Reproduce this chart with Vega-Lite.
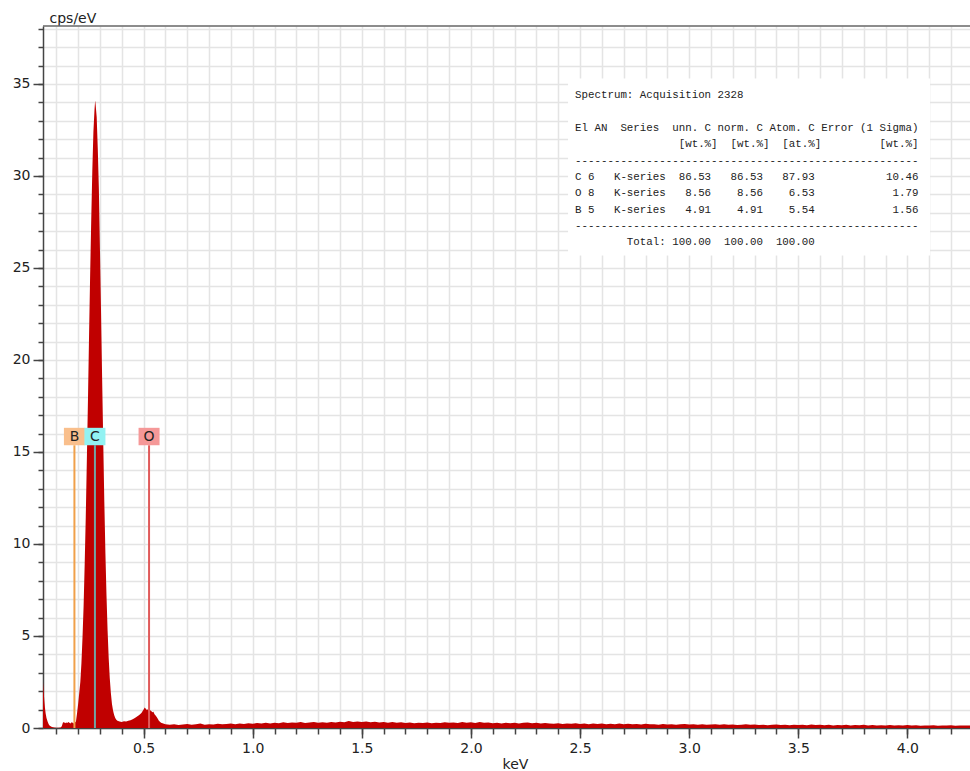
{
  "$schema": "https://vega.github.io/schema/vega-lite/v6.json",
  "width": 927,
  "height": 702,
  "autosize": {"type": "none"},
  "padding": {"left": 43, "top": 26, "right": 0, "bottom": 43},
  "background": "white",
  "config": {"view": {"stroke": null}},
  "datasets": {
    "spectrum": [
      {"keV": 0.039, "cps": 2.5}, {"keV": 0.042, "cps": 2.0}, {"keV": 0.045, "cps": 1.5}, {"keV": 0.048, "cps": 1.1},
      {"keV": 0.051, "cps": 0.8}, {"keV": 0.055, "cps": 0.55}, {"keV": 0.06, "cps": 0.35}, {"keV": 0.065, "cps": 0.2},
      {"keV": 0.07, "cps": 0.12}, {"keV": 0.08, "cps": 0.06}, {"keV": 0.09, "cps": 0.03}, {"keV": 0.10, "cps": 0.02},
      {"keV": 0.11, "cps": 0.02}, {"keV": 0.12, "cps": 0.03}, {"keV": 0.125, "cps": 0.1}, {"keV": 0.13, "cps": 0.28},
      {"keV": 0.135, "cps": 0.32}, {"keV": 0.14, "cps": 0.26}, {"keV": 0.145, "cps": 0.3}, {"keV": 0.15, "cps": 0.27},
      {"keV": 0.155, "cps": 0.33}, {"keV": 0.16, "cps": 0.29}, {"keV": 0.165, "cps": 0.25}, {"keV": 0.17, "cps": 0.31},
      {"keV": 0.175, "cps": 0.28}, {"keV": 0.18, "cps": 0.24}, {"keV": 0.185, "cps": 0.3}, {"keV": 0.19, "cps": 0.35},
      {"keV": 0.195, "cps": 0.8}, {"keV": 0.20, "cps": 1.3}, {"keV": 0.205, "cps": 1.9}, {"keV": 0.21, "cps": 2.5},
      {"keV": 0.215, "cps": 3.5}, {"keV": 0.22, "cps": 4.9}, {"keV": 0.225, "cps": 6.6}, {"keV": 0.23, "cps": 8.9},
      {"keV": 0.235, "cps": 11.5}, {"keV": 0.24, "cps": 14.6}, {"keV": 0.245, "cps": 17.8}, {"keV": 0.25, "cps": 21.3},
      {"keV": 0.255, "cps": 24.6}, {"keV": 0.26, "cps": 27.6}, {"keV": 0.265, "cps": 30.3}, {"keV": 0.27, "cps": 32.4},
      {"keV": 0.275, "cps": 33.6}, {"keV": 0.278, "cps": 34.1}, {"keV": 0.28, "cps": 33.9}, {"keV": 0.285, "cps": 33.2},
      {"keV": 0.29, "cps": 31.5}, {"keV": 0.295, "cps": 29.3}, {"keV": 0.30, "cps": 26.0}, {"keV": 0.305, "cps": 22.6},
      {"keV": 0.31, "cps": 19.0}, {"keV": 0.315, "cps": 15.6}, {"keV": 0.32, "cps": 12.3}, {"keV": 0.325, "cps": 9.5},
      {"keV": 0.33, "cps": 7.2}, {"keV": 0.335, "cps": 5.3}, {"keV": 0.34, "cps": 3.8}, {"keV": 0.345, "cps": 2.7},
      {"keV": 0.35, "cps": 1.9}, {"keV": 0.355, "cps": 1.3}, {"keV": 0.36, "cps": 0.95}, {"keV": 0.365, "cps": 0.7},
      {"keV": 0.37, "cps": 0.55}, {"keV": 0.375, "cps": 0.45}, {"keV": 0.38, "cps": 0.4}, {"keV": 0.39, "cps": 0.36},
      {"keV": 0.40, "cps": 0.33}, {"keV": 0.41, "cps": 0.37}, {"keV": 0.42, "cps": 0.35}, {"keV": 0.43, "cps": 0.4},
      {"keV": 0.44, "cps": 0.42}, {"keV": 0.45, "cps": 0.48}, {"keV": 0.46, "cps": 0.55}, {"keV": 0.47, "cps": 0.62},
      {"keV": 0.48, "cps": 0.7}, {"keV": 0.49, "cps": 0.82}, {"keV": 0.50, "cps": 1.0}, {"keV": 0.505, "cps": 1.12},
      {"keV": 0.51, "cps": 1.05}, {"keV": 0.515, "cps": 0.98}, {"keV": 0.52, "cps": 1.02}, {"keV": 0.525, "cps": 0.9},
      {"keV": 0.53, "cps": 0.96}, {"keV": 0.535, "cps": 0.92}, {"keV": 0.54, "cps": 0.85}, {"keV": 0.545, "cps": 0.88},
      {"keV": 0.55, "cps": 0.75}, {"keV": 0.555, "cps": 0.68}, {"keV": 0.56, "cps": 0.6}, {"keV": 0.565, "cps": 0.5},
      {"keV": 0.57, "cps": 0.4}, {"keV": 0.575, "cps": 0.34}, {"keV": 0.58, "cps": 0.28}, {"keV": 0.59, "cps": 0.24},
      {"keV": 0.60, "cps": 0.2}, {"keV": 0.62, "cps": 0.18}, {"keV": 0.64, "cps": 0.21}, {"keV": 0.66, "cps": 0.16},
      {"keV": 0.68, "cps": 0.19}, {"keV": 0.70, "cps": 0.22}, {"keV": 0.72, "cps": 0.17}, {"keV": 0.74, "cps": 0.2},
      {"keV": 0.76, "cps": 0.24}, {"keV": 0.78, "cps": 0.18}, {"keV": 0.80, "cps": 0.21}, {"keV": 0.82, "cps": 0.19},
      {"keV": 0.84, "cps": 0.23}, {"keV": 0.86, "cps": 0.2}, {"keV": 0.88, "cps": 0.22}, {"keV": 0.90, "cps": 0.25},
      {"keV": 0.92, "cps": 0.21}, {"keV": 0.94, "cps": 0.24}, {"keV": 0.96, "cps": 0.22}, {"keV": 0.98, "cps": 0.26},
      {"keV": 1.00, "cps": 0.23}, {"keV": 1.02, "cps": 0.27}, {"keV": 1.04, "cps": 0.24}, {"keV": 1.06, "cps": 0.28},
      {"keV": 1.08, "cps": 0.25}, {"keV": 1.10, "cps": 0.29}, {"keV": 1.12, "cps": 0.26}, {"keV": 1.14, "cps": 0.31},
      {"keV": 1.16, "cps": 0.27}, {"keV": 1.18, "cps": 0.3}, {"keV": 1.20, "cps": 0.28}, {"keV": 1.22, "cps": 0.32},
      {"keV": 1.24, "cps": 0.27}, {"keV": 1.26, "cps": 0.3}, {"keV": 1.28, "cps": 0.33}, {"keV": 1.30, "cps": 0.29},
      {"keV": 1.32, "cps": 0.31}, {"keV": 1.34, "cps": 0.28}, {"keV": 1.36, "cps": 0.33}, {"keV": 1.38, "cps": 0.3},
      {"keV": 1.40, "cps": 0.34}, {"keV": 1.42, "cps": 0.31}, {"keV": 1.44, "cps": 0.38}, {"keV": 1.46, "cps": 0.33},
      {"keV": 1.48, "cps": 0.36}, {"keV": 1.50, "cps": 0.32}, {"keV": 1.52, "cps": 0.35}, {"keV": 1.54, "cps": 0.31},
      {"keV": 1.56, "cps": 0.34}, {"keV": 1.58, "cps": 0.3}, {"keV": 1.60, "cps": 0.33}, {"keV": 1.62, "cps": 0.29},
      {"keV": 1.64, "cps": 0.32}, {"keV": 1.66, "cps": 0.28}, {"keV": 1.68, "cps": 0.31}, {"keV": 1.70, "cps": 0.27},
      {"keV": 1.72, "cps": 0.3}, {"keV": 1.74, "cps": 0.26}, {"keV": 1.76, "cps": 0.29}, {"keV": 1.78, "cps": 0.27},
      {"keV": 1.80, "cps": 0.3}, {"keV": 1.82, "cps": 0.26}, {"keV": 1.84, "cps": 0.29}, {"keV": 1.86, "cps": 0.27},
      {"keV": 1.88, "cps": 0.31}, {"keV": 1.90, "cps": 0.28}, {"keV": 1.92, "cps": 0.3}, {"keV": 1.94, "cps": 0.27},
      {"keV": 1.96, "cps": 0.32}, {"keV": 1.98, "cps": 0.29}, {"keV": 2.00, "cps": 0.31}, {"keV": 2.02, "cps": 0.27},
      {"keV": 2.04, "cps": 0.33}, {"keV": 2.06, "cps": 0.29}, {"keV": 2.08, "cps": 0.3}, {"keV": 2.10, "cps": 0.26},
      {"keV": 2.12, "cps": 0.29}, {"keV": 2.14, "cps": 0.25}, {"keV": 2.16, "cps": 0.28}, {"keV": 2.18, "cps": 0.26},
      {"keV": 2.20, "cps": 0.29}, {"keV": 2.22, "cps": 0.25}, {"keV": 2.24, "cps": 0.28}, {"keV": 2.26, "cps": 0.3},
      {"keV": 2.28, "cps": 0.26}, {"keV": 2.30, "cps": 0.28}, {"keV": 2.32, "cps": 0.24}, {"keV": 2.34, "cps": 0.27},
      {"keV": 2.36, "cps": 0.25}, {"keV": 2.38, "cps": 0.23}, {"keV": 2.40, "cps": 0.26}, {"keV": 2.42, "cps": 0.22},
      {"keV": 2.44, "cps": 0.25}, {"keV": 2.46, "cps": 0.23}, {"keV": 2.48, "cps": 0.26}, {"keV": 2.50, "cps": 0.22},
      {"keV": 2.52, "cps": 0.24}, {"keV": 2.54, "cps": 0.21}, {"keV": 2.56, "cps": 0.25}, {"keV": 2.58, "cps": 0.22},
      {"keV": 2.60, "cps": 0.24}, {"keV": 2.62, "cps": 0.21}, {"keV": 2.64, "cps": 0.23}, {"keV": 2.66, "cps": 0.2},
      {"keV": 2.68, "cps": 0.24}, {"keV": 2.70, "cps": 0.21}, {"keV": 2.72, "cps": 0.23}, {"keV": 2.74, "cps": 0.2},
      {"keV": 2.76, "cps": 0.22}, {"keV": 2.78, "cps": 0.19}, {"keV": 2.80, "cps": 0.23}, {"keV": 2.82, "cps": 0.2},
      {"keV": 2.84, "cps": 0.21}, {"keV": 2.86, "cps": 0.18}, {"keV": 2.88, "cps": 0.22}, {"keV": 2.90, "cps": 0.19},
      {"keV": 2.92, "cps": 0.21}, {"keV": 2.94, "cps": 0.18}, {"keV": 2.96, "cps": 0.2}, {"keV": 2.98, "cps": 0.22},
      {"keV": 3.00, "cps": 0.19}, {"keV": 3.02, "cps": 0.21}, {"keV": 3.04, "cps": 0.18}, {"keV": 3.06, "cps": 0.2},
      {"keV": 3.08, "cps": 0.17}, {"keV": 3.10, "cps": 0.19}, {"keV": 3.12, "cps": 0.21}, {"keV": 3.14, "cps": 0.18},
      {"keV": 3.16, "cps": 0.2}, {"keV": 3.18, "cps": 0.17}, {"keV": 3.20, "cps": 0.19}, {"keV": 3.22, "cps": 0.16},
      {"keV": 3.24, "cps": 0.18}, {"keV": 3.26, "cps": 0.2}, {"keV": 3.28, "cps": 0.17}, {"keV": 3.30, "cps": 0.19},
      {"keV": 3.32, "cps": 0.16}, {"keV": 3.34, "cps": 0.18}, {"keV": 3.36, "cps": 0.15}, {"keV": 3.38, "cps": 0.17},
      {"keV": 3.40, "cps": 0.19}, {"keV": 3.42, "cps": 0.16}, {"keV": 3.44, "cps": 0.18}, {"keV": 3.46, "cps": 0.15},
      {"keV": 3.48, "cps": 0.17}, {"keV": 3.50, "cps": 0.16}, {"keV": 3.52, "cps": 0.18}, {"keV": 3.54, "cps": 0.15},
      {"keV": 3.56, "cps": 0.19}, {"keV": 3.58, "cps": 0.16}, {"keV": 3.60, "cps": 0.18}, {"keV": 3.62, "cps": 0.15},
      {"keV": 3.64, "cps": 0.17}, {"keV": 3.66, "cps": 0.14}, {"keV": 3.68, "cps": 0.16}, {"keV": 3.70, "cps": 0.15},
      {"keV": 3.72, "cps": 0.17}, {"keV": 3.74, "cps": 0.14}, {"keV": 3.76, "cps": 0.16}, {"keV": 3.78, "cps": 0.15},
      {"keV": 3.80, "cps": 0.17}, {"keV": 3.82, "cps": 0.14}, {"keV": 3.84, "cps": 0.16}, {"keV": 3.86, "cps": 0.13},
      {"keV": 3.88, "cps": 0.15}, {"keV": 3.90, "cps": 0.14}, {"keV": 3.92, "cps": 0.16}, {"keV": 3.94, "cps": 0.13},
      {"keV": 3.96, "cps": 0.15}, {"keV": 3.98, "cps": 0.14}, {"keV": 4.00, "cps": 0.16}, {"keV": 4.02, "cps": 0.13},
      {"keV": 4.04, "cps": 0.15}, {"keV": 4.06, "cps": 0.12}, {"keV": 4.08, "cps": 0.14}, {"keV": 4.10, "cps": 0.13},
      {"keV": 4.12, "cps": 0.15}, {"keV": 4.14, "cps": 0.12}, {"keV": 4.16, "cps": 0.14}, {"keV": 4.18, "cps": 0.13},
      {"keV": 4.20, "cps": 0.15}, {"keV": 4.22, "cps": 0.12}, {"keV": 4.24, "cps": 0.14}, {"keV": 4.26, "cps": 0.13},
      {"keV": 4.28, "cps": 0.14}, {"keV": 4.30, "cps": 0.13}
    ],
    "elements": [
      {"el": "B", "keV": 0.183},
      {"el": "C", "keV": 0.277},
      {"el": "O", "keV": 0.525}
    ],
    "table": [
      {"i": 0, "line": "Spectrum: Acquisition 2328"},
      {"i": 2, "line": "El\u00a0AN\u00a0\u00a0Series\u00a0\u00a0unn.\u00a0C\u00a0norm.\u00a0C\u00a0Atom.\u00a0C\u00a0Error\u00a0(1\u00a0Sigma)"},
      {"i": 3, "line": "\u200b\u00a0\u00a0\u00a0\u00a0\u00a0\u00a0\u00a0\u00a0\u00a0\u00a0\u00a0\u00a0\u00a0\u00a0\u00a0\u00a0[wt.%]\u00a0\u00a0[wt.%]\u00a0\u00a0[at.%]\u00a0\u00a0\u00a0\u00a0\u00a0\u00a0\u00a0\u00a0\u00a0[wt.%]"},
      {"i": 4, "line": "-----------------------------------------------------"},
      {"i": 5, "line": "C\u00a06\u00a0\u00a0\u00a0K-series\u00a0\u00a086.53\u00a0\u00a0\u00a086.53\u00a0\u00a0\u00a087.93\u00a0\u00a0\u00a0\u00a0\u00a0\u00a0\u00a0\u00a0\u00a0\u00a0\u00a010.46"},
      {"i": 6, "line": "O\u00a08\u00a0\u00a0\u00a0K-series\u00a0\u00a0\u00a08.56\u00a0\u00a0\u00a0\u00a08.56\u00a0\u00a0\u00a0\u00a06.53\u00a0\u00a0\u00a0\u00a0\u00a0\u00a0\u00a0\u00a0\u00a0\u00a0\u00a0\u00a01.79"},
      {"i": 7, "line": "B\u00a05\u00a0\u00a0\u00a0K-series\u00a0\u00a0\u00a04.91\u00a0\u00a0\u00a0\u00a04.91\u00a0\u00a0\u00a0\u00a05.54\u00a0\u00a0\u00a0\u00a0\u00a0\u00a0\u00a0\u00a0\u00a0\u00a0\u00a0\u00a01.56"},
      {"i": 8, "line": "-----------------------------------------------------"},
      {"i": 9, "line": "\u200b\u00a0\u00a0\u00a0\u00a0\u00a0\u00a0\u00a0\u00a0Total:\u00a0100.00\u00a0\u00a0100.00\u00a0\u00a0100.00"}
    ],
    "box": [{"x1": 2.445, "x2": 4.104, "y1": 35.3, "y2": 25.68}]
  },
  "layer": [
    {
      "data": {"name": "spectrum"},
      "mark": {"type": "area", "color": "#c00000", "interpolate": "linear", "clip": true},
      "encoding": {
        "x": {
          "field": "keV", "type": "quantitative",
          "scale": {"domain": [0.039, 4.287], "nice": false, "zero": false},
          "axis": {
            "orient": "bottom", "title": null, "labels": false,
            "values": [0.1,0.2,0.3,0.4,0.5,0.6,0.7,0.8,0.9,1.0,1.1,1.2,1.3,1.4,1.5,1.6,1.7,1.8,1.9,2.0,2.1,2.2,2.3,2.4,2.5,2.6,2.7,2.8,2.9,3.0,3.1,3.2,3.3,3.4,3.5,3.6,3.7,3.8,3.9,4.0,4.1,4.2],
            "tickSize": 6, "tickColor": "#444", "tickWidth": 1.5, "domainColor": "#444", "domainWidth": 1.5,
            "grid": true, "gridColor": "#e4e4e4", "gridWidth": 1.5
          }
        },
        "y": {
          "field": "cps", "type": "quantitative",
          "scale": {"domain": [0, 38.15], "nice": false, "zero": false},
          "axis": {
            "orient": "left", "title": null, "labels": false,
            "values": [0,1,2,3,4,5,6,7,8,9,10,11,12,13,14,15,16,17,18,19,20,21,22,23,24,25,26,27,28,29,30,31,32,33,34,35,36,37,38],
            "tickSize": 5, "tickColor": "#444", "tickWidth": 1.5, "domainColor": "#444", "domainWidth": 1.5,
            "grid": true, "gridColor": "#e4e4e4", "gridWidth": 1.5
          }
        }
      }
    },
    {
      "data": {"name": "box"},
      "mark": {"type": "rect", "color": "white"},
      "encoding": {
        "x": {"field": "x1", "type": "quantitative", "scale": {"domain": [0.039, 4.287], "nice": false, "zero": false}, "axis": null},
        "x2": {"field": "x2"},
        "y": {"field": "y1", "type": "quantitative", "scale": {"domain": [0, 38.15], "nice": false, "zero": false}, "axis": null},
        "y2": {"field": "y2"}
      }
    },
    {
      "data": {"name": "table"},
      "mark": {"type": "text", "align": "left", "baseline": "middle", "font": "Liberation Mono", "fontSize": 10.8, "color": "#222"},
      "encoding": {
        "x": {"datum": 2.477, "type": "quantitative", "scale": {"domain": [0.039, 4.287], "nice": false, "zero": false}, "axis": null},
        "y": {"datum": 34.375, "type": "quantitative", "scale": {"domain": [0, 38.15], "nice": false, "zero": false}, "axis": null},
        "yOffset": {"field": "i", "type": "quantitative", "scale": {"domain": [0, 10], "range": [0, 163]}},
        "text": {"field": "line", "type": "nominal"}
      }
    },
    {
      "data": {"name": "elements"},
      "mark": {"type": "rule", "strokeWidth": 2},
      "encoding": {
        "x": {
          "field": "keV", "type": "quantitative", "scale": {"domain": [0.039, 4.287], "nice": false, "zero": false},
          "axis": {
            "orient": "bottom",
            "title": "keV", "titleFont": "DejaVu Sans", "titleFontSize": 14, "titleFontWeight": "normal", "titleColor": "#222",
            "titleX": 472, "titleY": 36, "titleBaseline": "middle", "titleAlign": "center",
            "values": [0.5, 1.0, 1.5, 2.0, 2.5, 3.0, 3.5, 4.0], "format": ".1f",
            "labelFont": "DejaVu Sans", "labelFontSize": 14, "labelColor": "#222", "labelPadding": 3,
            "labelFlush": false, "labelOverlap": false,
            "tickSize": 10, "tickColor": "#444", "tickWidth": 1.5, "domain": false, "grid": false
          }
        },
        "y": {
          "datum": 0, "type": "quantitative", "scale": {"domain": [0, 38.15], "nice": false, "zero": false},
          "axis": {
            "orient": "left",
            "title": "cps/eV", "titleFont": "DejaVu Sans", "titleFontSize": 14, "titleFontWeight": "normal", "titleColor": "#222",
            "titleAngle": 0, "titleAlign": "left", "titleBaseline": "alphabetic", "titleX": 6, "titleY": -4,
            "values": [0, 5, 10, 15, 20, 25, 30, 35], "format": "d",
            "labelFont": "DejaVu Sans", "labelFontSize": 14, "labelColor": "#222", "labelPadding": 3,
            "labelFlush": false, "labelOverlap": false,
            "tickSize": 10, "tickColor": "#444", "tickWidth": 1.5, "domain": false, "grid": false
          }
        },
        "y2": {"datum": 15.37},
        "stroke": {"field": "el", "type": "nominal", "scale": {"domain": ["B", "C", "O"], "range": ["#f0a04a", "#72a4a4", "#e05a5a"]}, "legend": null}
      }
    },
    {
      "data": {"name": "elements"},
      "mark": {"type": "point", "filled": true, "opacity": 1, "shape": "M-1,-0.83H1V0.83H-1Z", "size": 441, "strokeWidth": 0},
      "encoding": {
        "x": {"field": "keV", "type": "quantitative", "scale": {"domain": [0.039, 4.287], "nice": false, "zero": false}, "axis": null},
        "y": {"datum": 15.84, "type": "quantitative", "scale": {"domain": [0, 38.15], "nice": false, "zero": false}, "axis": null},
        "fill": {"field": "el", "type": "nominal", "scale": {"domain": ["B", "C", "O"], "range": ["#f9bf8c", "#92f2f2", "#f59898"]}, "legend": null}
      }
    },
    {
      "data": {"name": "elements"},
      "mark": {"type": "text", "font": "DejaVu Sans", "fontSize": 14, "color": "#222", "baseline": "middle", "align": "center"},
      "encoding": {
        "x": {"field": "keV", "type": "quantitative", "scale": {"domain": [0.039, 4.287], "nice": false, "zero": false}, "axis": null},
        "y": {"datum": 15.84, "type": "quantitative", "scale": {"domain": [0, 38.15], "nice": false, "zero": false}, "axis": null},
        "text": {"field": "el", "type": "nominal"}
      }
    },
    {
      "data": {"name": "box"},
      "mark": {"type": "rule", "color": "#666", "strokeWidth": 1.5},
      "encoding": {
        "y": {"datum": 38.15, "type": "quantitative", "scale": {"domain": [0, 38.15], "nice": false, "zero": false}, "axis": null}
      }
    }
  ],
  "resolve": {"scale": {"color": "independent"}, "axis": {"x": "independent", "y": "independent"}}
}
